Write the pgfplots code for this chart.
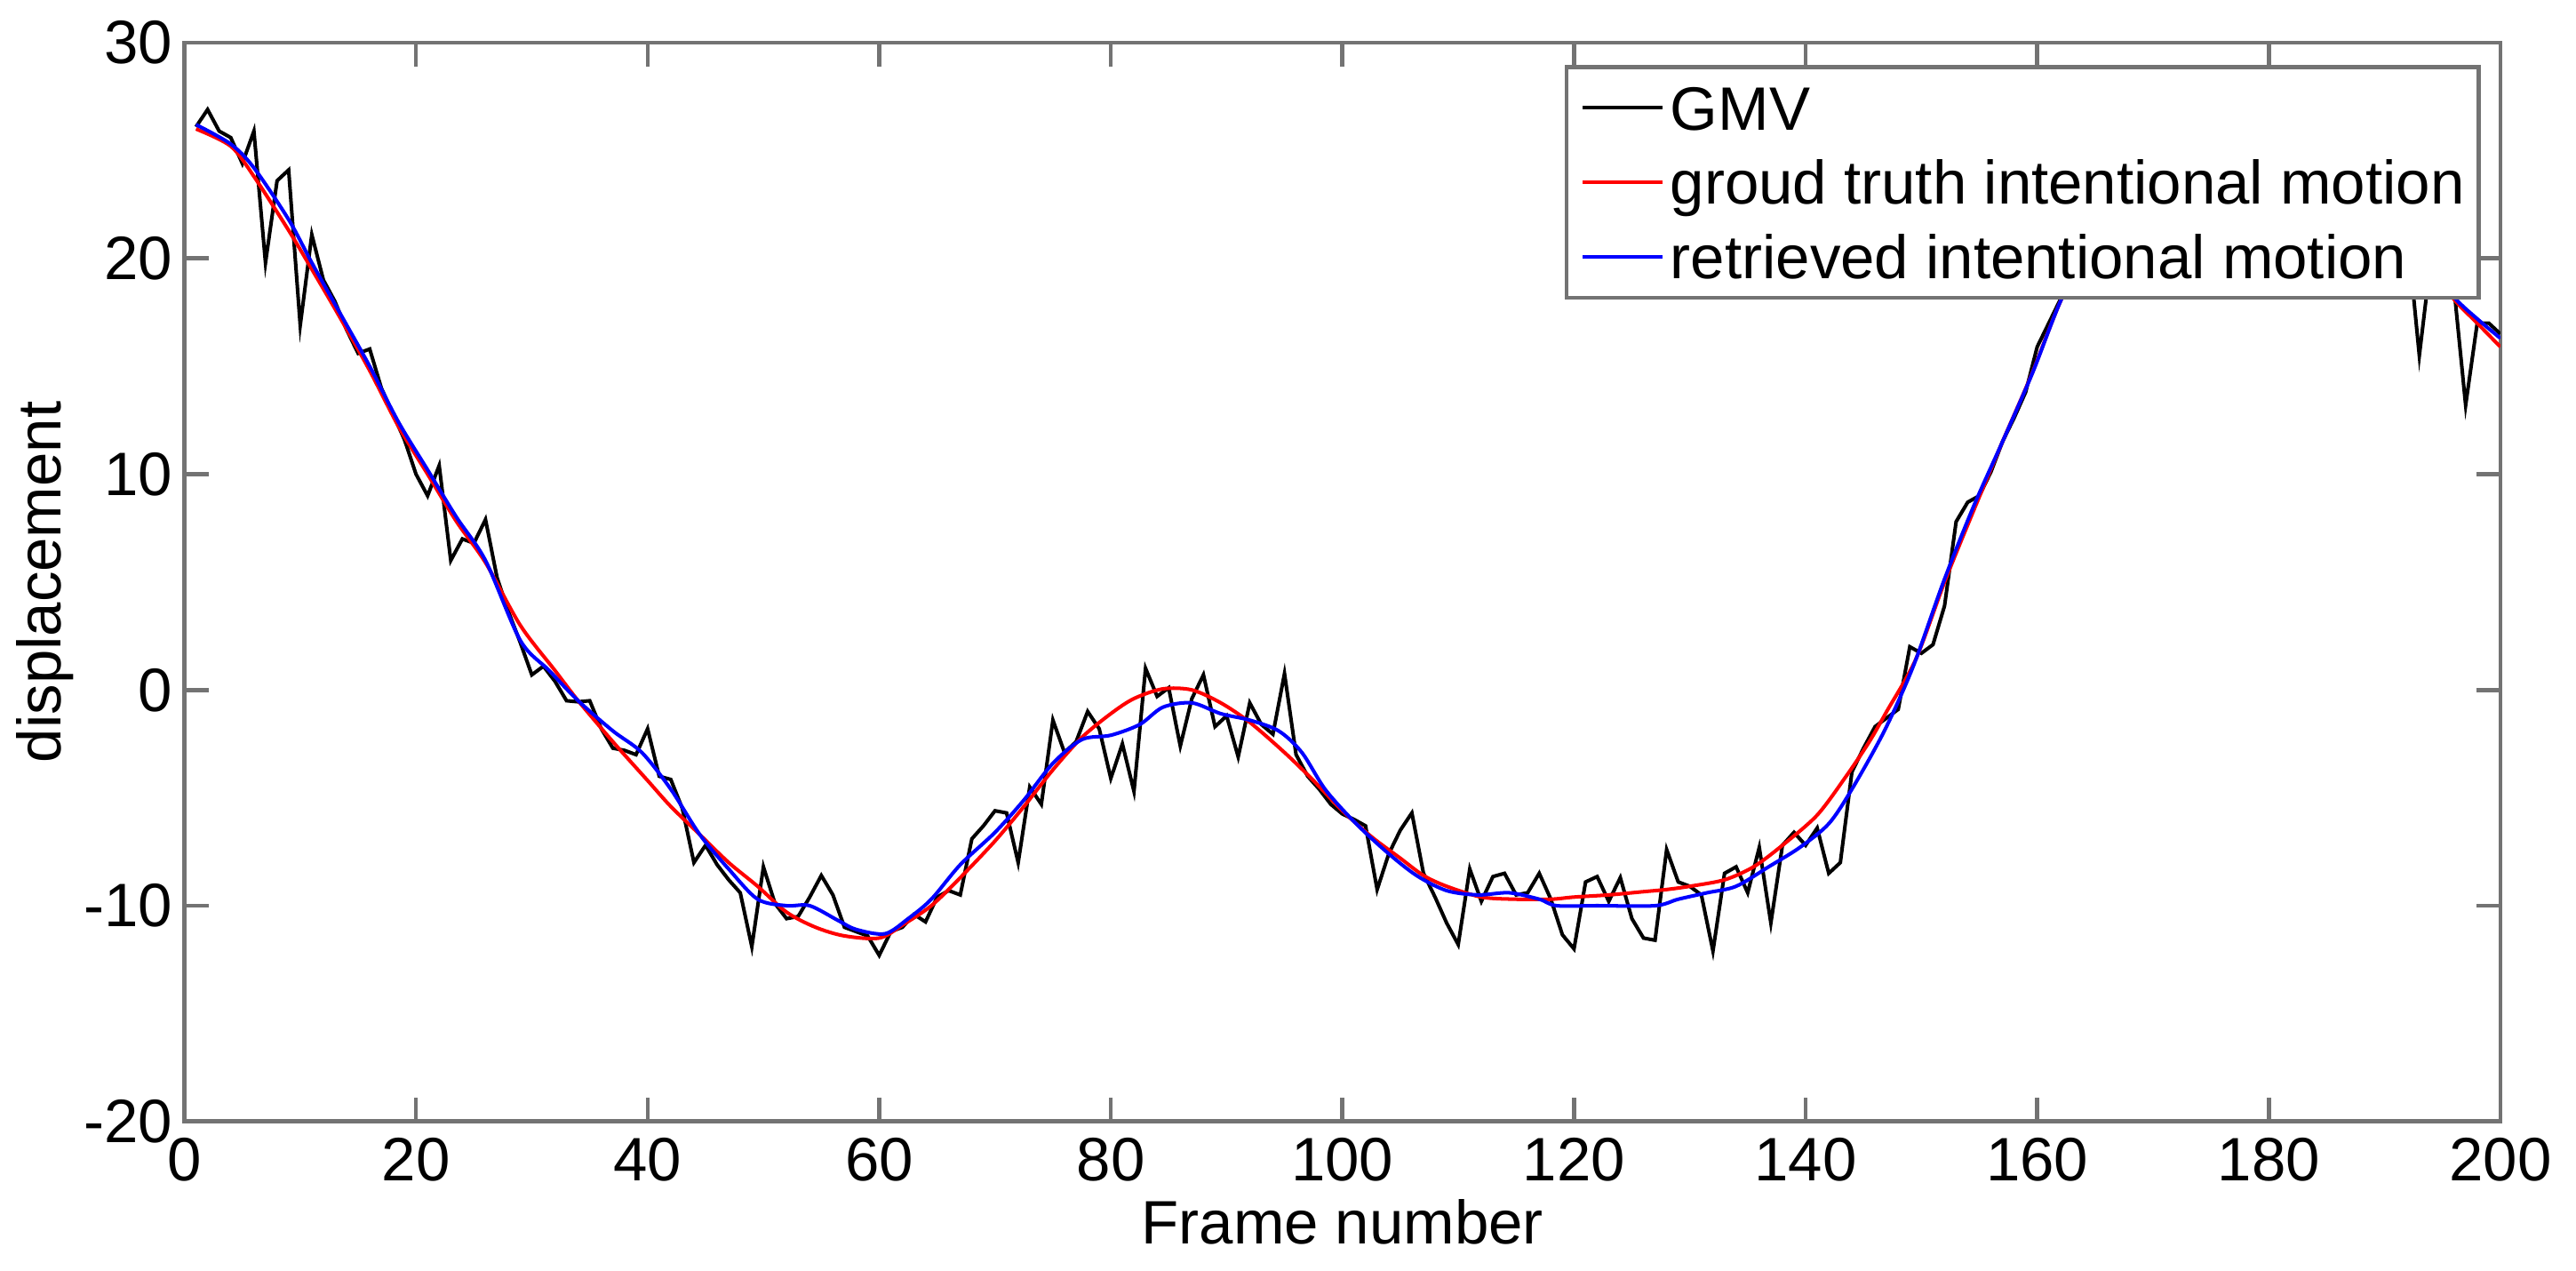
\documentclass[border=0pt]{standalone}
\usepackage{fontspec}
\setmainfont{Liberation Sans}
\usepackage{pgfplots}
\pgfplotsset{compat=1.18}
\definecolor{axgray}{RGB}{115,115,115}
\newcommand{\ls}{\rule[-3pt]{0pt}{14.6pt}}
\newcommand{\fnt}{\fontsize{12}{14}\selectfont}
\begin{document}
\begin{tikzpicture}
\path[use as bounding box] (-36.1pt,-29.2pt) rectangle (468.1pt,219.45pt);
\begin{axis}[
  at={(0pt,0pt)}, anchor=south west,
  scale only axis, width=453.3pt, height=211.1pt,
  xmin=0, xmax=200, ymin=-20, ymax=30,
  xtick={0,20,...,200}, ytick={-20,-10,...,30},
  xticklabels={0,20,40,60,80,100,120,140,160,180,200},
  yticklabels={-20,-10,0,10,20,30},
  tick align=inside, major tick length=4.7pt,
  axis line style={axgray, line width=0.8pt},
  every tick/.style={axgray, line width=0.8pt},
  xticklabel style={font=\fnt, inner sep=0pt, anchor=north, yshift=-3.1pt},
  yticklabel style={font=\fnt, inner sep=0pt, anchor=east, xshift=-2.2pt},
  xlabel={Frame number}, ylabel={displacement},
  xlabel style={font=\fnt, inner sep=0pt, at={([yshift=-24pt]axis description cs:0.5,0)}, anchor=base},
  ylabel style={font=\fnt, inner sep=0pt, at={([xshift=-24.2pt]axis description cs:0,0.5)}, anchor=base},
  legend style={at={(axis description cs:0.9916,0.9794)}, anchor=north east,
    draw=axgray, line width=0.8pt, fill=white, inner xsep=2.8pt, inner ysep=0.7pt,
    row sep=0pt, column sep=1.2pt, font=\fnt, nodes={inner sep=0pt, text depth=3pt}},
  legend cell align=left,
  legend image code/.code={\draw[#1] (0pt,0pt) -- (15.6pt,0pt);},
]
\addplot[black, line width=0.7pt] coordinates {
(1,26.1)(2,26.9)(3,25.9)(4,25.6)(5,24.4)(6,25.9)(7,19.8)(8,23.6)(9,24.1)(10,16.9)
(11,21.1)(12,19.0)(13,18.0)(14,16.7)(15,15.6)(16,15.8)(17,14.0)(18,12.8)(19,11.6)(20,10.0)
(21,9.0)(22,10.4)(23,6.0)(24,7.0)(25,6.8)(26,7.9)(27,5.2)(28,3.6)(29,2.2)(30,0.7)
(31,1.1)(32,0.4)(33,-0.5)(34,-0.55)(35,-0.5)(36,-1.8)(37,-2.7)(38,-2.8)(39,-3.0)(40,-1.8)
(41,-4.0)(42,-4.15)(43,-5.5)(44,-8.0)(45,-7.2)(46,-8.1)(47,-8.8)(48,-9.4)(49,-11.9)(50,-8.2)
(51,-9.9)(52,-10.6)(53,-10.5)(54,-9.6)(55,-8.6)(56,-9.5)(57,-11.0)(58,-11.2)(59,-11.4)(60,-12.3)
(61,-11.2)(62,-11.0)(63,-10.4)(64,-10.75)(65,-9.6)(66,-9.3)(67,-9.5)(68,-6.9)(69,-6.3)(70,-5.6)
(71,-5.7)(72,-8.0)(73,-4.5)(74,-5.3)(75,-1.4)(76,-2.9)(77,-2.4)(78,-1.0)(79,-1.8)(80,-4.1)
(81,-2.5)(82,-4.7)(83,1.0)(84,-0.3)(85,0.1)(86,-2.6)(87,-0.4)(88,0.7)(89,-1.7)(90,-1.2)
(91,-3.1)(92,-0.6)(93,-1.6)(94,-2.05)(95,0.76)(96,-3.0)(97,-4.0)(98,-4.6)(99,-5.3)(100,-5.75)
(101,-6.0)(102,-6.3)(103,-9.25)(104,-7.6)(105,-6.5)(106,-5.7)(107,-8.5)(108,-9.6)(109,-10.8)(110,-11.8)
(111,-8.3)(112,-9.8)(113,-8.65)(114,-8.5)(115,-9.5)(116,-9.4)(117,-8.5)(118,-9.7)(119,-11.35)(120,-12.0)
(121,-8.9)(122,-8.65)(123,-9.8)(124,-8.7)(125,-10.6)(126,-11.5)(127,-11.6)(128,-7.4)(129,-8.9)(130,-9.1)
(131,-9.5)(132,-12.1)(133,-8.5)(134,-8.2)(135,-9.4)(136,-7.3)(137,-10.8)(138,-7.2)(139,-6.6)(140,-7.2)
(141,-6.4)(142,-8.5)(143,-8.0)(144,-3.8)(145,-2.7)(146,-1.7)(147,-1.3)(148,-0.9)(149,2.0)(150,1.7)
(151,2.1)(152,3.9)(153,7.8)(154,8.7)(155,9.0)(156,10.1)(157,11.5)(158,12.6)(159,13.8)(160,15.9)
(161,17.0)(162,18.1)(163,19.3)(164,20.6)(165,21.0)(166,22.4)(167,23.0)(168,24.3)(169,24.1)(170,25.5)
(171,25.2)(172,26.4)(173,25.8)(174,27.0)(175,26.3)(176,27.5)(177,26.6)(178,27.4)(179,26.8)(180,27.6)
(181,26.4)(182,27.0)(183,25.8)(184,26.2)(185,25.0)(186,25.4)(187,24.0)(188,24.3)(189,22.8)(190,23.2)
(191,21.6)(192,21.0)(193,15.5)(194,20.0)(195,19.0)(196,18.6)(197,13.2)(198,17.0)(199,17.0)(200,16.5)
};
\addlegendentry{\ls GMV}
\addplot[red, line width=0.7pt, smooth] coordinates {
(1,26.0)(4,25.2)(6,23.8)(9,21.3)(11,19.5)(13.5,17.2)(16,14.8)(18.5,12.2)(21,10.0)(23.5,7.8)
(26,5.9)(29,3.0)(32,0.9)(34,-0.5)(37,-2.4)(40,-4.2)(42,-5.4)(44.5,-6.7)(47,-8.0)(49.5,-9.1)
(52,-10.3)(54.5,-11.0)(57,-11.4)(60,-11.5)(62,-10.9)(64.5,-10.0)(67,-8.7)(70,-7.0)(72.5,-5.4)(75,-3.7)
(77.5,-2.2)(80,-1.1)(82,-0.4)(84.5,0.05)(87,0.0)(89.5,-0.6)(92,-1.5)(95,-2.9)(97.5,-4.2)(100,-5.6)
(102.5,-6.8)(105,-7.8)(107,-8.6)(109,-9.1)(112,-9.6)(115,-9.7)(118,-9.7)(120,-9.6)(123,-9.5)(126,-9.35)
(128,-9.25)(130,-9.1)(133,-8.8)(135.5,-8.2)(138,-7.2)(141,-5.8)(143.5,-4.0)(145.5,-2.4)(147,-1.0)(149.5,1.4)
(152,5.0)(154.5,8.3)(157,11.5)(159.5,14.6)(162,18.0)(165,21.3)(170,25.0)(175,26.8)(180,27.0)(185,25.5)
(190,22.5)(193,20.2)(196,18.1)(198,17.0)(200,15.9)
};
\addlegendentry{\ls groud truth intentional motion}
\addplot[blue, line width=0.7pt, smooth] coordinates {
(1,26.2)(4,25.3)(6,24.2)(9,21.8)(11,19.8)(13.5,17.4)(16,15.0)(18.5,12.4)(21,10.2)(23.5,8.0)
(26,6.0)(29,2.3)(31.5,0.9)(34,-0.5)(37,-1.9)(39.5,-2.9)(42,-4.6)(44.5,-6.7)(47,-8.3)(49.5,-9.7)
(52,-10.0)(54,-10.0)(56.5,-10.7)(58,-11.1)(60.5,-11.3)(62.5,-10.6)(64.5,-9.7)(67,-8.1)(70,-6.6)(72.5,-5.1)
(75,-3.4)(77.5,-2.3)(80,-2.1)(82.5,-1.6)(84.5,-0.8)(87,-0.6)(89.5,-1.1)(92,-1.4)(94.5,-1.9)(96.5,-2.9)
(98.5,-4.6)(101,-6.1)(103.8,-7.5)(106.4,-8.6)(109,-9.3)(111.7,-9.5)(114.4,-9.4)(117,-9.7)(118.5,-10.0)(122,-10.0)
(127,-10.0)(129,-9.7)(131.5,-9.4)(134,-9.1)(136.8,-8.2)(139.5,-7.3)(142,-6.2)(144,-4.6)(146.8,-1.9)(149.3,1.1)
(151.9,5.0)(154.5,8.5)(157,11.5)(159.6,14.7)(162,18.0)(165,21.3)(170,25.0)(175,26.6)(180,26.8)(185,25.3)
(190,22.4)(193,20.2)(196,18.2)(198,17.2)(200,16.3)
};
\addlegendentry{\ls retrieved intentional motion}
\end{axis}
\end{tikzpicture}
\end{document}
